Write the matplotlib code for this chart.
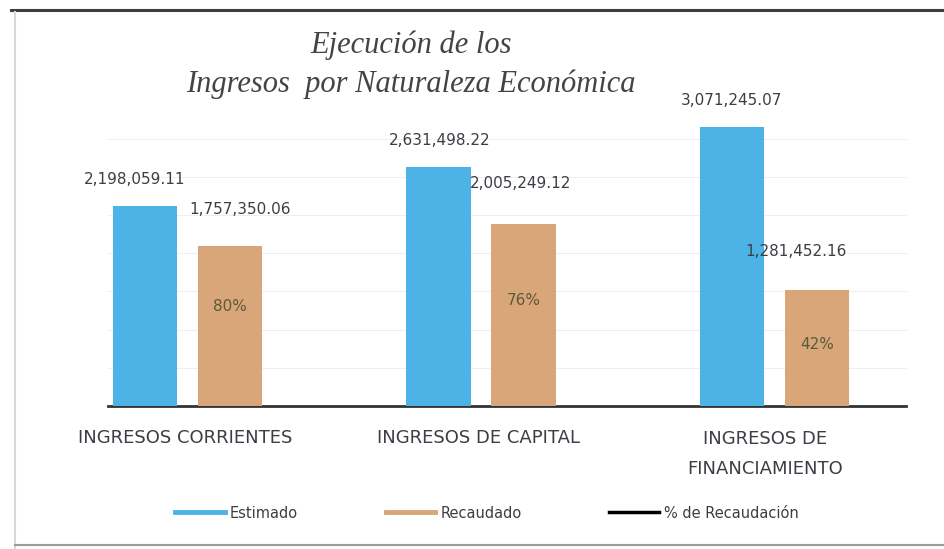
import matplotlib
matplotlib.use("Agg")
import matplotlib.pyplot as plt
import matplotlib.transforms as mtransforms
import numpy as np
from matplotlib.lines import Line2D

categories = ["INGRESOS CORRIENTES", "INGRESOS DE CAPITAL", "INGRESOS DE\nFINANCIAMIENTO"]
estimado = [2198059.11, 2631498.22, 3071245.07]
recaudado = [1757350.06, 2005249.12, 1281452.16]
pct_labels = ["80%", "76%", "42%"]
series_names = ["Estimado", "Recaudado", "% de Recaudación"]
title_lines = ["Ejecución de los", "Ingresos  por Naturaleza Económica"]

blue = "#4db3e6"
orange = "#d9a679"
txt = "#3d3d45"

fig = plt.figure(figsize=(9.44, 5.49), dpi=100)
fig.patch.set_facecolor("white")

# photo frame lines
fig.add_artist(Line2D([0.012, 1.0], [1 - 10/549, 1 - 10/549], color="#3a3f44", lw=2.2))
fig.add_artist(Line2D([15/944, 15/944], [0.0, 1 - 12/549], color="#d8d8d8", lw=1.5))
fig.add_artist(Line2D([15/944, 1.0], [4/549, 4/549], color="#9a9a9a", lw=1.5))

ax = fig.add_axes([41/944, 1 - 406/549, 880/944, 300/549])
x = np.arange(len(categories))
w = 0.22
off = 0.145
ax.bar(x - off, estimado, w, color=blue, zorder=3)
ax.bar(x + off, recaudado, w, color=orange, zorder=3)

ax.set_xlim(-0.5, 2.5)
ax.set_ylim(0, 3.3e6)
for gy in np.arange(420000, 3300000, 420000):
    ax.plot([-0.27, 2.45], [gy, gy], color="#eeeeee", lw=0.8, zorder=0)
ax.tick_params(left=False, labelleft=False, bottom=False, labelbottom=False)
for s in ["top", "right", "left"]:
    ax.spines[s].set_visible(False)
ax.spines["bottom"].set_color("#333333")
ax.spines["bottom"].set_linewidth(2)
ax.spines["bottom"].set_bounds(-0.27, 2.45)
ax.set_xticks(x)

# category labels
trans = mtransforms.blended_transform_factory(ax.transData, fig.transFigure)
cat_y = [438, 438, 430]
cat_dx = [-0.01, -0.01, -0.03]
for i, c in enumerate(categories):
    ax.text(x[i] + cat_dx[i], 1 - cat_y[i]/549, c, transform=trans, ha="center",
            va="top" if "\n" in c else "center",
            fontsize=13, color=txt, linespacing=1.85)

def fmt(v):
    return f"{v:,.2f}"

est_dx = [-0.035, 0.005, 0.0]
for i, v in enumerate(estimado):
    ax.text(x[i] - off + est_dx[i], v + 290000, fmt(v), ha="center", va="center",
            fontsize=11, color=txt, zorder=5)
rec_dy = [408000, 440000, 420000]
rec_dx = [0.033, -0.01, -0.07]
pct_frac = [0.62, 0.58, 0.53]
for i, v in enumerate(recaudado):
    ax.text(x[i] + off + rec_dx[i], v + rec_dy[i], fmt(v), ha="center", va="center",
            fontsize=11, color=txt, zorder=5)
    ax.text(x[i] + off, v * pct_frac[i], pct_labels[i], ha="center",
            va="center", fontsize=11, color="#5a5a3a", zorder=5)

fig.text(0.435, 1 - 45/549, title_lines[0], ha="center", va="center",
         fontsize=22, style="italic", family="Liberation Serif", color="#444444")
fig.text(0.435, 1 - 84/549, title_lines[1], ha="center", va="center",
         fontsize=22, style="italic", family="Liberation Serif", color="#444444")

handles = [Line2D([], [], color=blue, lw=3.5),
           Line2D([], [], color=orange, lw=3.5),
           Line2D([], [], color="black", lw=2.5)]
fig.legend(handles, series_names, loc="center", bbox_to_anchor=(487/944, 1 - 513/549),
           ncol=3, frameon=False, fontsize=10.5, columnspacing=6.0, handlelength=3.4,
           handletextpad=0.35, labelcolor=txt)

fig.savefig("out.png", dpi=100)
